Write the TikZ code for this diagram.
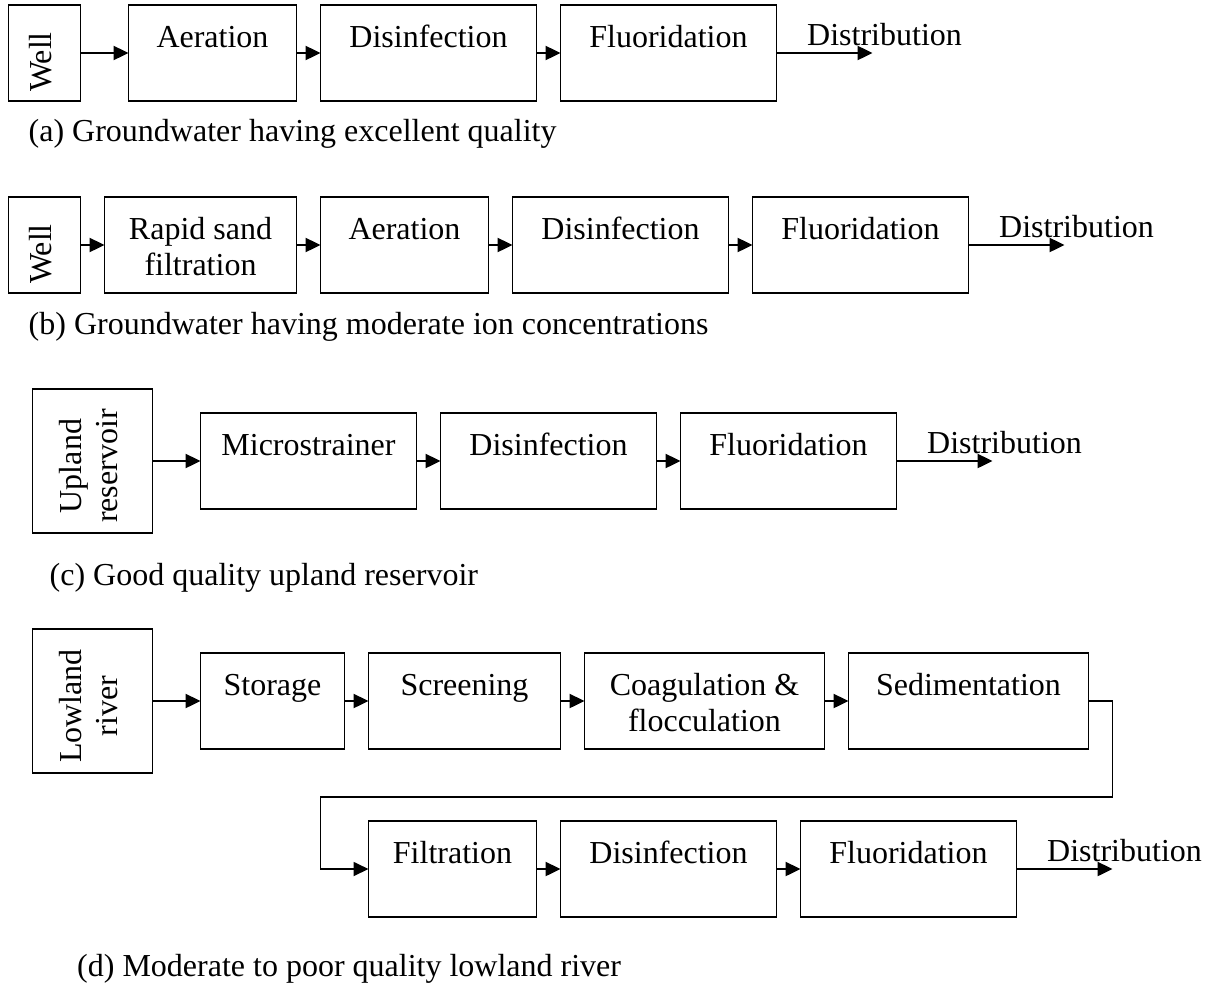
\documentclass[tikz,border=0pt]{standalone}
\usepackage{fontspec}
\setmainfont{Liberation Serif}
\usetikzlibrary{positioning,arrows.meta}

\tikzset{
  stage/.style={draw,line width=1.6pt,inner xsep=0pt,inner ysep=0pt,outer sep=0pt,
    text height=42pt,text depth=54pt,align=center},
  stagetwo/.style={stage,text height=78pt,text depth=18pt},
  source/.style={draw,line width=1.6pt,rotate=90,inner sep=0pt,outer sep=0pt},
  flow/.style={line width=2.4pt,-{Triangle[length=15pt,width=14pt]}},
  loopback/.style={line width=1.8pt,-{Triangle[length=15pt,width=14pt]}},
  caption/.style={anchor=base west,inner sep=0pt},
  outlet/.style={anchor=base west,inner sep=0pt}
}
% rotated source text, pushed a little towards the bottom of its box
\newcommand{\srctext}[2]{\hspace*{-#1}\begin{tabular}{@{}c@{}}#2\end{tabular}}

\begin{document}
\begin{tikzpicture}[x=1pt,y=1pt,node distance=24pt,
  every node/.style={font=\fontsize{32pt}{36pt}\selectfont}]
\useasboundingbox (0,0) rectangle (1207,-988);

% (a)
\node[source,minimum width=96pt,minimum height=72pt] (wellA) at (44.5,-53) {\srctext{18pt}{Well}};
\node[stage,minimum width=168pt,right=48pt of wellA.south] (aerA) {Aeration};
\node[stage,minimum width=216pt,right=of aerA] (disA) {Disinfection};
\node[stage,minimum width=216pt,right=of disA] (fluA) {Fluoridation};
\coordinate[right=96pt of fluA.east] (endA);
\node[outlet] (distA) at ([xshift=30.5pt,yshift=8pt]fluA.east) {Distribution};
\draw[flow] (wellA.south) -- (aerA.west);
\draw[flow] (aerA) -- (disA);
\draw[flow] (disA) -- (fluA);
\draw[flow] (fluA) -- (endA);
\node[caption] (capA) at (28.5,-141) {(a) Groundwater having excellent quality};

% (b)
\node[source,minimum width=96pt,minimum height=72pt] (wellB) at (44.5,-245) {\srctext{18pt}{Well}};
\node[stagetwo,minimum width=192pt,right=of wellB.south] (rsfB) {Rapid sand\\filtration};
\node[stage,minimum width=168pt,right=of rsfB] (aerB) {Aeration};
\node[stage,minimum width=216pt,right=of aerB] (disB) {Disinfection};
\node[stage,minimum width=216pt,right=of disB] (fluB) {Fluoridation};
\coordinate[right=96pt of fluB.east] (endB);
\node[outlet] (distB) at ([xshift=30.5pt,yshift=8pt]fluB.east) {Distribution};
\draw[flow] (wellB.south) -- (rsfB.west);
\draw[flow] (rsfB) -- (aerB);
\draw[flow] (aerB) -- (disB);
\draw[flow] (disB) -- (fluB);
\draw[flow] (fluB) -- (endB);
\node[caption] (capB) at (28.5,-334) {(b) Groundwater having moderate ion concentrations};

% (c)
\node[source,minimum width=144pt,minimum height=120pt] (uplC) at (92.5,-461) {\srctext{10pt}{Upland\\reservoir}};
\node[stage,minimum width=216pt,right=48pt of uplC.south] (micC) {Microstrainer};
\node[stage,minimum width=216pt,right=of micC] (disC) {Disinfection};
\node[stage,minimum width=216pt,right=of disC] (fluC) {Fluoridation};
\coordinate[right=96pt of fluC.east] (endC);
\node[outlet] (distC) at ([xshift=30.5pt,yshift=8pt]fluC.east) {Distribution};
\draw[flow] (uplC.south) -- (micC.west);
\draw[flow] (micC) -- (disC);
\draw[flow] (disC) -- (fluC);
\draw[flow] (fluC) -- (endC);
\node[caption] (capC) at (49.5,-585) {(c) Good quality upland reservoir};

% (d)
\node[source,minimum width=144pt,minimum height=120pt] (lowD) at (92.5,-701) {\srctext{10pt}{Lowland\\river}};
\node[stage,minimum width=144pt,right=48pt of lowD.south] (stoD) {Storage};
\node[stage,minimum width=192pt,right=of stoD] (scrD) {Screening};
\node[stagetwo,minimum width=240pt,right=of scrD] (coaD) {Coagulation \&\\flocculation};
\node[stage,minimum width=240pt,right=of coaD] (sedD) {Sedimentation};
\node[stage,minimum width=168pt,anchor=north west] (filD) at ([yshift=-72pt]scrD.south west) {Filtration};
\node[stage,minimum width=216pt,right=of filD] (disD) {Disinfection};
\node[stage,minimum width=216pt,right=of disD] (fluD) {Fluoridation};
\coordinate[right=96pt of fluD.east] (endD);
\node[outlet] (distD) at ([xshift=30.5pt,yshift=8pt]fluD.east) {Distribution};
\coordinate (bendR) at ([xshift=24pt]sedD.east |- 0,-797);
\coordinate (bendL) at ([xshift=-48pt]filD.west);
\draw[flow] (lowD.south) -- (stoD.west);
\draw[flow] (stoD) -- (scrD);
\draw[flow] (scrD) -- (coaD);
\draw[flow] (coaD) -- (sedD);
\draw[loopback] (sedD.east) -| (bendR) -| (bendL) -- (filD.west);
\draw[flow] (filD) -- (disD);
\draw[flow] (disD) -- (fluD);
\draw[flow] (fluD) -- (endD);
\node[caption] (capD) at (77,-976) {(d) Moderate to poor quality lowland river};

\end{tikzpicture}
\end{document}
